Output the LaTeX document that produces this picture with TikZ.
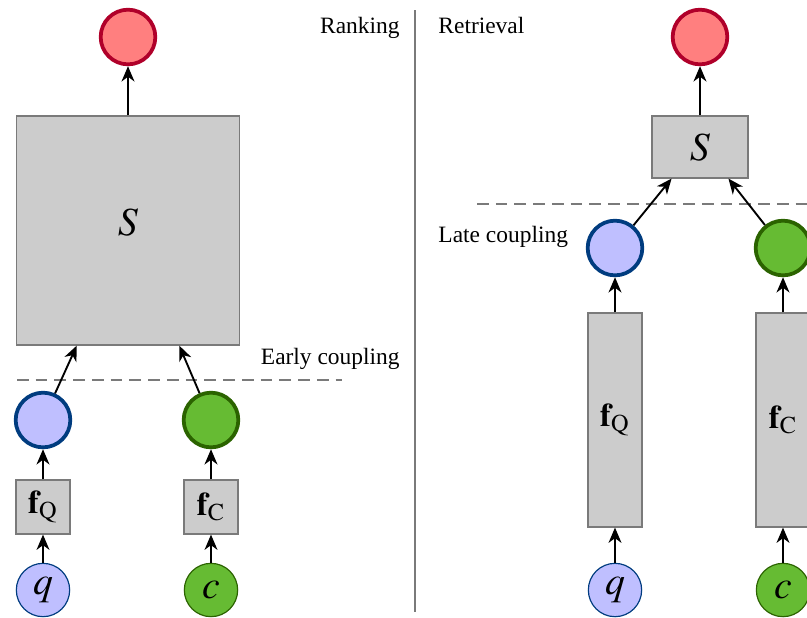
\documentclass[tikz,border=0pt]{standalone}
\usepackage{mathptmx}
\usepackage{fontspec}
\setmainfont{Liberation Serif}
\usetikzlibrary{arrows.meta}

\definecolor{qfill}{HTML}{BFBFFF}
\definecolor{qline}{HTML}{003C7F}
\definecolor{cfill}{HTML}{66BB33}
\definecolor{cline}{HTML}{2B6300}
\definecolor{sfill}{HTML}{FF7F7F}
\definecolor{sline}{HTML}{B0002A}
\definecolor{boxfill}{HTML}{CCCCCC}
\definecolor{boxline}{HTML}{7A7A7A}

\begin{document}
\begin{tikzpicture}[x=0.015cm,y=-0.015cm,
    block/.style={draw=boxline,fill=boxfill,line width=0.5pt,inner sep=0pt},
    score/.style={circle,draw=sline,fill=sfill,line width=1.6pt,minimum size=0.82cm,inner sep=0pt},
    qvec/.style={circle,draw=qline,fill=qfill,line width=1.6pt,minimum size=0.82cm,inner sep=0pt},
    cvec/.style={circle,draw=cline,fill=cfill,line width=1.6pt,minimum size=0.82cm,inner sep=0pt},
    qin/.style={circle,draw=qline,fill=qfill,line width=0.5pt,minimum size=0.8cm,inner sep=0pt,font=\fontsize{17}{17}\selectfont},
    cin/.style={circle,draw=cline,fill=cfill,line width=0.5pt,minimum size=0.8cm,inner sep=0pt,font=\fontsize{17}{17}\selectfont},
    fvec/.style={block,font=\fontsize{14}{14}\selectfont},
    lbl/.style={inner sep=0pt,font=\fontsize{10}{12}\selectfont},
    conn/.style={-{Stealth[length=6.5pt,width=5.5pt,inset=2pt]},line width=0.8pt},
    coupling/.style={draw=boxline,line width=0.6pt,dash pattern=on 5pt off 3pt}]
    \useasboundingbox (0,0) rectangle (807,617);

    % ranking: early coupling
    \node[score] (r1) at (128,37) {};
    \node[block,minimum width=3.345cm,minimum height=3.435cm,font=\fontsize{17}{18}\selectfont] (S1) at (128,230.5) {\rule[-6.8pt]{0pt}{6.8pt}$S$};
    \node[qvec] (qv1) at (43,420) {};
    \node[cvec] (cv1) at (211,420) {};
    \node[fvec,minimum size=0.81cm] (fq1) at (43,507) {$\mathbf{f}_{\mathrm{Q}}$};
    \node[fvec,minimum size=0.81cm] (fc1) at (211,507) {$\mathbf{f}_{\mathrm{C}}$};
    \node[qin] (q1) at (43,590) {$q$};
    \node[cin] (c1) at (211,590) {$c$};
    \draw[coupling] (17,380) -- (342,380);
    \node[lbl,anchor=base east] (early) at (400,364) {Early coupling};
    \node[lbl,anchor=base east] (rank) at (400,33) {Ranking};

    \draw[conn] (S1) -- (r1);
    \draw[conn] (qv1) -- (S1.-114);
    \draw[conn] (cv1) -- (S1.-66);
    \draw[conn] (fq1) -- (qv1);
    \draw[conn] (fc1) -- (cv1);
    \draw[conn] (q1) -- (fq1);
    \draw[conn] (c1) -- (fc1);

    \draw[boxline,line width=0.6pt] (415,10) -- (415,612);

    % retrieval: late coupling
    \node[score] (r2) at (700,37) {};
    \node[block,minimum width=1.44cm,minimum height=0.93cm,font=\fontsize{17}{18}\selectfont] (S2) at (700,147) {$S$};
    \node[qvec] (qv2) at (615,248) {};
    \node[cvec] (cv2) at (783,248) {};
    \node[fvec,minimum width=0.81cm,minimum height=3.21cm] (fq2) at (615,420) {$\mathbf{f}_{\mathrm{Q}}$};
    \node[fvec,minimum width=0.81cm,minimum height=3.21cm] (fc2) at (783,420) {$\mathbf{f}_{\mathrm{C}}$};
    \node[qin] (q2) at (615,590) {$q$};
    \node[cin] (c2) at (783,590) {$c$};
    \draw[coupling] (477,204) -- (830,204);
    \node[lbl,anchor=base west] (late) at (438,242) {Late coupling};
    \node[lbl,anchor=base west] (retr) at (438,33) {Retrieval};

    \draw[conn] (S2) -- (r2);
    \draw[conn] (qv2) -- (S2.-132);
    \draw[conn] (cv2) -- (S2.-48);
    \draw[conn] (fq2) -- (qv2);
    \draw[conn] (fc2) -- (cv2);
    \draw[conn] (q2) -- (fq2);
    \draw[conn] (c2) -- (fc2);
\end{tikzpicture}
\end{document}
